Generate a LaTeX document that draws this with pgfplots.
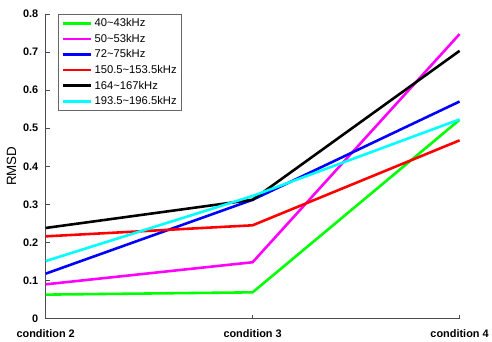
\documentclass[border=0pt]{standalone}
\usepackage{fontspec}
\setmainfont{Liberation Sans}
\usepackage{pgfplots}
\pgfplotsset{compat=1.18}
\begin{document}
\begin{tikzpicture}
\begin{axis}[
  scale only axis,
  width=417pt, height=307pt,
  xmin=0, xmax=2, ymin=0, ymax=0.8,
  axis x line=bottom, axis y line=left,
  axis line style={-, black!70, line width=0.7pt},
  xtick={0,1,2},
  xticklabels={condition 2,condition 3,condition 4},
  ytick={0,0.1,...,0.8},
  yticklabel style={/pgf/number format/fixed,/pgf/number format/precision=1, xshift=-4pt},
  /pgf/number format/assume math mode=true,
  tick label style={font=\fontsize{11}{13}\selectfont\bfseries},
  xticklabel style={yshift=-8pt},
  tick align=inside,
  major tick length=4pt,
  tick style={black!70, line width=0.6pt},
  ylabel={RMSD},
  ylabel style={font=\fontsize{13.5}{15}\selectfont, yshift=0pt},
  legend style={at={(rel axis cs:0.031,1)}, anchor=north west, draw=black!60, line width=0.6pt,
    font=\fontsize{11.3}{13}\selectfont, row sep=2pt, inner sep=2.5pt},
  legend cell align=left,
  legend image code/.code={\draw[#1, line width=2.6pt] (0pt,0pt) -- (29pt,0pt);},
  every axis plot/.append style={line width=2.6pt},
  clip=false,
]
\addplot[color={rgb,255:red,0;green,255;blue,0}] coordinates {(0,0.063) (1,0.069) (2,0.522)};
\addlegendentry{40\textasciitilde 43kHz}
\addplot[color={rgb,255:red,255;green,0;blue,255}] coordinates {(0,0.090) (1,0.148) (2,0.747)};
\addlegendentry{50\textasciitilde 53kHz}
\addplot[color={rgb,255:red,0;green,0;blue,255}] coordinates {(0,0.118) (1,0.312) (2,0.570)};
\addlegendentry{72\textasciitilde 75kHz}
\addplot[color={rgb,255:red,255;green,0;blue,0}] coordinates {(0,0.216) (1,0.245) (2,0.468)};
\addlegendentry{150.5\textasciitilde 153.5kHz}
\addplot[color=black] coordinates {(0,0.238) (1,0.312) (2,0.703)};
\addlegendentry{164\textasciitilde 167kHz}
\addplot[color={rgb,255:red,0;green,255;blue,255}] coordinates {(0,0.151) (1,0.322) (2,0.523)};
\addlegendentry{193.5\textasciitilde 196.5kHz}
\path (rel axis cs:0,1) ++(-46pt,14pt);
\end{axis}
\end{tikzpicture}
\end{document}
